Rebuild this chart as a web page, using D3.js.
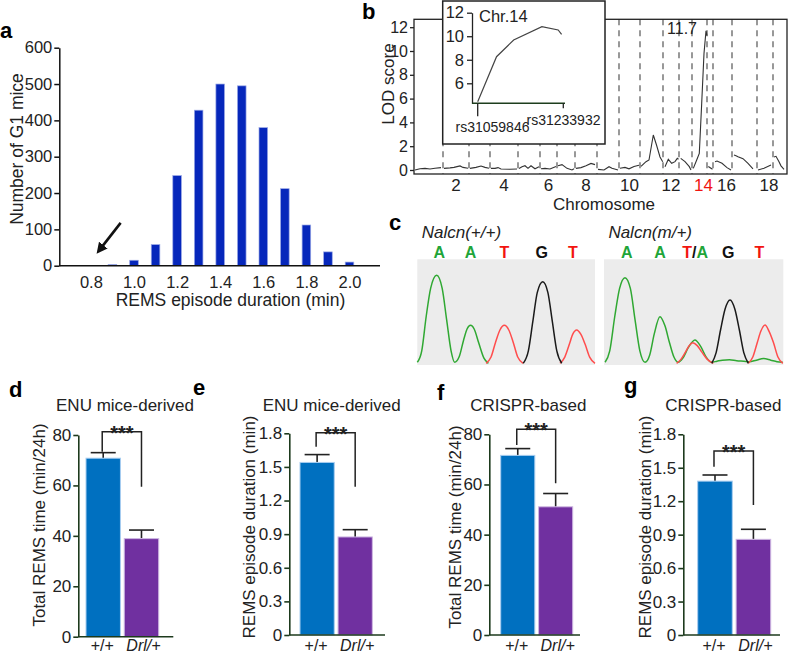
<!DOCTYPE html>
<html><head><meta charset="utf-8">
<script src="https://cdn.jsdelivr.net/npm/d3@7"></script>
<style>
body{margin:0;background:#fff}
svg{display:block;font-family:"Liberation Sans",Arial,Helvetica,sans-serif}
</style>
</head><body>
<svg id="fig" width="800" height="662"></svg>
<script>
// ================= DATA =================
// Panel a: histogram of REMS episode duration
const histBins   = [0.9, 1.0, 1.1, 1.2, 1.3, 1.4, 1.5, 1.6, 1.7, 1.8, 1.9, 2.0];
const histCounts = [3, 15, 58, 248, 428, 500, 495, 380, 212, 112, 38, 10];
const histXTicks = [0.8, 1.0, 1.2, 1.4, 1.6, 1.8, 2.0];
const histYTicks = [0, 100, 200, 300, 400, 500, 600];

// Panel b: LOD scan
const chrNames   = ["1","2","3","4","5","6","7","8","9","10","11","12","13","14","15","16","17","18","19"];
const chrLengths = [29, 26, 21, 28, 22, 17, 18, 22, 22, 21, 23, 16, 13, 15, 6, 19, 25, 16, 14];
const lodTicks   = [0, 2, 4, 6, 8, 10, 12];
// [position within chromosome, LOD]
const lodByChr = [
  [[1,0.0],[6,0.1],[11,0.14],[16,0.08],[21,0.15],[27,0.2]],
  [[1,0.14],[7,0.18],[11,0.22],[17,0.34],[20,0.22],[25,0.14]],
  [[1,0.14],[7,0.22],[12,0.34],[16,0.22],[20,0.14]],
  [[1,0.14],[5,0.14],[8,0.2],[11,0.08],[20,0.06],[27,0.08]],
  [[1,0.12],[4,0.28],[7,0.36],[10,0.14],[13,0.36],[17,0.1],[21,0.28]],
  [[1,0.1],[5,0.14],[10,0.08],[16,0.3]],
  [[1,0.35],[5,0.45],[10,0.14],[15,0.0],[17,0.1]],
  [[1,0.14],[6,0.2],[11,0.35],[16,0.55],[20,0.45]],
  [[1,0.05],[7,0.0],[12,0.28],[15,0.14],[21,0.0]],
  [[1,0.14],[6,0.22],[10,0.1],[15,0.3],[20,0.4]],
  [[1,0.3],[6,0.7],[9,0.84],[13.3,2.94],[16.5,2.1],[20,1.1],[22.7,0.7]],
  [[2,0.28],[5.3,0.9],[8.7,0.56],[12,0.7],[14.3,0.98],[15.5,0.9]],
  [[1.7,0.98],[6,0.7],[10.3,0.28],[12,0.0]],
  [[1.3,0.14],[4.7,0.84],[7.3,1.4],[9.7,5.6],[12,9.8],[14,11.7],[15,11.3]],
  [[1.3,0.3],[5.5,0.06]],
  [[2,0.7],[4,0.75],[9,0.56],[14,0.2],[18,0.0]],
  [[2,1.26],[4,1.2],[6,1.12],[11,0.95],[16,0.56],[21,0.1]],
  [[1,0.0],[7,0.15],[14,0.42]],
  [[1,1.1],[3,1.15],[6,0.7],[8,0.35],[11,0.05]]
];
const peakChr = "14";
const peakLabel = "11.7";
const insetTitle = "Chr.14";
const insetMarkers = ["rs31059846", "rs31233932"];
const insetPos = [0, 0.22, 0.42, 0.75, 0.94, 0.98];
const insetLod = [4.43, 8.26, 9.68, 10.81, 10.53, 10.16];
const insetTicks = [6, 8, 10, 12];

// Panel c: chromatograms  [position, intensity]
const wtTitle = "Nalcn(+/+)", mutTitle = "Nalcn(m/+)";
const wtCalls = ["A","A","T","G","T"];
const wtCallPos = [12.4, 30, 49, 70, 87.5];
const mutCalls = ["A","A","T/A","G","T"];
const mutCallPos = [12.7, 31.2, 50.8, 69.3, 86.6];
const wtTraces = {
  A: [[[0,1],[2.5,12],[5,45],[7.5,72],[10.9,84.6],[14,72],[16.5,42],[19,12],[21,1],[23.5,6],[26,22],[28,33],[30,36.5],[32,33],[34.5,20],[37.5,5],[40,0]]],
  T: [[[38.7,0],[41.5,6],[44,20],[46.5,32],[49,36.5],[51.5,32],[54,20],[56.5,6],[59.5,0]],
      [[80.3,0],[83,6],[85.5,18],[87.5,28],[89.7,32],[92,28],[94.5,18],[97,6],[100,0]]],
  G: [[[59.6,0],[62.5,12],[65,40],[67.5,68],[70.6,78.5],[73.5,68],[76,40],[78.5,12],[81.3,0]]]
};
const mutTraces = {
  A: [[[0.6,1],[3.2,12],[6,45],[8.7,72],[11.7,82.3],[14.7,72],[17.3,42],[20,12],[22.9,1],[25.5,8],[28,28],[31.2,44.8],[34,36],[36.5,20],[39,6],[41.4,1],[44,5],[47,15],[50.7,22.4],[54,16],[57,6],[60,1],[63,2],[66,3],[70,3.5],[74,2.5],[78,2],[81,1.5],[85,3],[89,4.5],[93,3],[96.5,1.5],[99.7,1]]],
  T: [[[40.5,0],[43,4],[45.5,11],[47.5,17],[49.5,19.8],[52,17],[54.5,11],[57.5,4],[61,0]],
      [[80.5,0],[83,6],[85.5,20],[87.5,31],[89.8,36.8],[92,31],[94.5,20],[97,6],[99.7,0]]],
  G: [[[60.1,0],[62.5,10],[65,32],[67.5,52],[70.3,60.9],[73,52],[75.5,32],[78,10],[80.5,0]]]
};

// Panels d-g: bar charts (mean, SEM)
const barGroups = ["+/+", "Drl/+"];
const dMeans = [70.8, 38.9],  dErrs = [2.2, 3.4];
const eMeans = [1.54, 0.875], eErrs = [0.07, 0.065];
const fMeans = [71.6, 51.1],  fErrs = [2.7, 5.3];
const gMeans = [1.38, 0.858], gErrs = [0.055, 0.09];
const timeTicks = [0, 20, 40, 60, 80];
const durTicks  = [0, 0.3, 0.6, 0.9, 1.2, 1.5, 1.8];
const sigLabel = "***";

// ================= DRAWING =================
const svg = d3.select("#fig");
const FS = 17;

function panelLetter(t, x, y) {
  svg.append("text").attr("x", x).attr("y", y).attr("font-size", 22)
    .attr("font-weight", "bold").text(t);
}

// ---------- Panel a ----------
(function () {
  const g = svg.append("g");
  const x = d3.scaleLinear().domain([1.0, 2.0]).range([134, 349.5]);
  const y = d3.scaleLinear().domain([0, 600]).range([265.7, 47.7]);
  const bw = 8.6;
  g.selectAll("rect.bar").data(histBins.map((b, i) => ({ b, c: histCounts[i] })))
    .join("rect").attr("class", "bar")
    .attr("x", d => x(d.b) - bw / 2).attr("width", bw)
    .attr("y", d => y(d.c)).attr("height", d => y(0) - y(d.c))
    .attr("fill", "#0627bb").attr("stroke", "#9aa8e6").attr("stroke-width", 0.7);

  const ya = g.append("g").attr("transform", "translate(59.3,0)")
    .call(d3.axisLeft(y).tickValues(histYTicks).tickSize(5).tickPadding(2).tickSizeOuter(0));
  const xa = g.append("g").attr("transform", `translate(0,${y(0)})`)
    .call(d3.axisBottom(x).tickValues(histXTicks).tickSize(0).tickPadding(11).tickFormat(d3.format(".1f")));
  xa.select(".domain").remove();
  g.append("line").attr("x1", 59.3).attr("x2", 380).attr("y1", y(0)).attr("y2", y(0))
    .attr("stroke", "#111").attr("stroke-width", 1.5);
  [ya, xa].forEach(a => {
    a.selectAll("text").attr("font-size", 16.5).attr("fill", "#222").attr("font-family", null);
    a.selectAll("path,line").attr("stroke", "#111").attr("stroke-width", 1.5);
  });
  g.append("text").attr("transform", `translate(17,149) rotate(-90)`).attr("text-anchor", "middle")
    .attr("dy", "0.35em").attr("font-size", 17.5).attr("fill", "#222").text("Number of G1 mice");
  g.append("text").attr("x", 230.5).attr("y", 306).attr("text-anchor", "middle")
    .attr("font-size", 17.5).attr("fill", "#222").text("REMS episode duration (min)");
  // arrow
  const defs = svg.append("defs");
  defs.append("marker").attr("id", "arr").attr("viewBox", "0 0 10 10").attr("refX", 5).attr("refY", 5)
    .attr("markerWidth", 4.2).attr("markerHeight", 4.2).attr("orient", "auto")
    .append("path").attr("d", "M0,0 L10,5 L0,10 Z").attr("fill", "#111");
  g.append("line").attr("x1", x(0.938)).attr("y1", y(118)).attr("x2", x(0.842)).attr("y2", y(45))
    .attr("stroke", "#111").attr("stroke-width", 2.6).attr("marker-end", "url(#arr)");
  panelLetter("a", 0, 38);
})();

// ---------- Panel b ----------
(function () {
  const g = svg.append("g");
  const starts = [];
  let acc = 0;
  chrLengths.forEach(l => { starts.push(acc); acc += l; });
  const x = d3.scaleLinear().domain([0, acc]).range([414, 787]);
  const y = d3.scaleLinear().domain([0, 12]).range([170, 27.2]);
  const top = 19.3, bot = 174;

  // dashed chromosome boundaries
  g.selectAll("line.chr").data(starts.slice(1)).join("line").attr("class", "chr")
    .attr("x1", d => x(d)).attr("x2", d => x(d)).attr("y1", top).attr("y2", bot)
    .attr("stroke", "#555").attr("stroke-width", 1.2).attr("stroke-dasharray", "6,5");

  const line = d3.line().x(d => d[0]).y(d => d[1]);
  lodByChr.forEach((pts, i) => {
    g.append("path").attr("d", line(pts.map(p => [x(starts[i] + p[0]), y(p[1])])))
      .attr("fill", "none").attr("stroke", "#333").attr("stroke-width", 1.1);
  });
  g.append("rect").attr("x", 414).attr("y", top).attr("width", 373).attr("height", bot - top)
    .attr("fill", "none").attr("stroke", "#222").attr("stroke-width", 1.3);

  const ya = g.append("g").attr("transform", "translate(414,0)")
    .call(d3.axisLeft(y).tickValues(lodTicks).tickSize(4).tickPadding(2).tickSizeOuter(0));
  ya.select(".domain").remove();
  ya.selectAll("line").attr("stroke", "#222").attr("stroke-width", 1.3);
  ya.selectAll("text").attr("font-size", 16).attr("fill", "#222").attr("font-family", null);

  // chromosome labels (even ones)
  chrNames.forEach((n, i) => {
    if ((i + 1) % 2 !== 0) return;
    g.append("text").attr("x", x(starts[i] + chrLengths[i] / 2) + (i > 12 ? 4 : 0)).attr("y", 190.5)
      .attr("text-anchor", "middle").attr("font-size", FS)
      .attr("fill", n === peakChr ? "#f0140f" : "#222").text(n);
  });
  g.append("text").attr("x", 604).attr("y", 210).attr("text-anchor", "middle")
    .attr("font-size", FS).attr("fill", "#222").text("Chromosome");
  g.append("text").attr("transform", "translate(388,84) rotate(-90)").attr("text-anchor", "middle")
    .attr("dy", "0.35em").attr("font-size", FS).attr("fill", "#222").text("LOD score");

  // peak label
  const pi = chrNames.indexOf(peakChr);
  const pk = lodByChr[pi].reduce((a, b) => (b[1] > a[1] ? b : a));
  g.append("text").attr("x", x(starts[pi] + pk[0]) - 9).attr("y", y(+peakLabel) + 3.5)
    .attr("text-anchor", "end").attr("font-size", 16).attr("fill", "#222").text(peakLabel);

  // inset
  g.append("rect").attr("x", 442.7).attr("y", 1).attr("width", 162.3).attr("height", 143)
    .attr("fill", "#fff").attr("stroke", "#222").attr("stroke-width", 1.5);
  const ix = d3.scaleLinear().domain([0, 1]).range([477.7, 563.3]);
  const iy = d3.scaleLinear().domain([4.3, 12]).range([103.3, 12.7]);
  const iya = g.append("g").attr("transform", "translate(472,0)")
    .call(d3.axisLeft(iy).tickValues(insetTicks).tickSize(5).tickPadding(3).tickSizeOuter(0));
  iya.selectAll("path,line").attr("stroke", "#222").attr("stroke-width", 1.3);
  iya.selectAll("text").attr("font-size", 16.5).attr("fill", "#222").attr("font-family", null);
  g.append("line").attr("x1", 472).attr("x2", 565).attr("y1", iy(4.3)).attr("y2", iy(4.3))
    .attr("stroke", "#1d3d1d").attr("stroke-width", 1.6);
  g.append("line").attr("x1", ix(0)).attr("x2", ix(0)).attr("y1", iy(4.3)).attr("y2", iy(4.3) + 13)
    .attr("stroke", "#222").attr("stroke-width", 1.3);
  g.append("line").attr("x1", ix(1)).attr("x2", ix(1)).attr("y1", iy(4.3)).attr("y2", iy(4.3) + 5)
    .attr("stroke", "#222").attr("stroke-width", 1.3);
  g.append("path").attr("d", d3.line()(insetPos.map((p, i) => [ix(p), iy(insetLod[i])])))
    .attr("fill", "none").attr("stroke", "#444").attr("stroke-width", 1.2);
  g.append("text").attr("x", 479).attr("y", 21.5).attr("font-size", 16.5).attr("fill", "#222").text(insetTitle);
  g.append("text").attr("x", 455.5).attr("y", 132).attr("font-size", 14).attr("fill", "#222").text(insetMarkers[0]);
  g.append("text").attr("x", 526.5).attr("y", 124.5).attr("font-size", 14).attr("fill", "#222").text(insetMarkers[1]);
  panelLetter("b", 362, 19);
})();

// ---------- Panel c ----------
(function () {
  const g = svg.append("g");
  const cy = d3.scaleLinear().domain([0, 100]).range([363.3, 259.3]);
  const baseColor = { A: "#1fa539", T: "#f2150f", G: "#111", "/": "#111" };
  const traceColor = { A: "#2fa832", T: "#ff4d4d", G: "#1a1a1a" };
  const line = d3.line().curve(d3.curveMonotoneX);
  function chrom(x0, x1, title, calls, callPos, traces, order) {
    const cx = d3.scaleLinear().domain([0, 100]).range([x0, x1]);
    g.append("rect").attr("x", cx(0)).attr("y", 259.3).attr("width", cx(100) - cx(0)).attr("height", 105.7)
      .attr("fill", "#ececec");
    order.forEach(b => {
      traces[b].forEach(seg => {
        g.append("path").attr("d", line(seg.map(p => [cx(p[0]), cy(p[1])])))
          .attr("fill", "none").attr("stroke", traceColor[b]).attr("stroke-width", 1.5);
      });
    });
    g.append("text").attr("x", x0 + 4.4).attr("y", 238).attr("font-size", FS)
      .attr("font-style", "italic").attr("fill", "#222").text(title);
    calls.forEach((c, i) => {
      const t = g.append("text").attr("x", cx(callPos[i])).attr("y", 258).attr("text-anchor", "middle")
        .attr("font-size", 16).attr("font-weight", "bold");
      c.split("").forEach(ch => t.append("tspan").attr("fill", baseColor[ch]).text(ch));
    });
  }
  chrom(417.3, 595, wtTitle, wtCalls, wtCallPos, wtTraces, ["A", "T", "G"]);
  chrom(604, 783.3, mutTitle, mutCalls, mutCallPos, mutTraces, ["A", "T", "G"]);
  panelLetter("c", 389, 230);
})();

// ---------- Panels d-g ----------
function barPanel(cfg) {
  const g = svg.append("g");
  const y = d3.scaleLinear().domain([0, cfg.max]).range([cfg.y0, cfg.y1]);
  const x = d3.scaleBand().domain(barGroups).range([cfg.bandL, cfg.bandR]).paddingInner(0.1);
  const fills = ["#0070c0", "#7030a0"], strokes = ["#a8cdf0", "#cdb6e2"];
  const data = barGroups.map((k, i) => ({ k, m: cfg.means[i], e: cfg.errs[i], i }));
  // error bars
  data.forEach(d => {
    const cx = x(d.k) + x.bandwidth() / 2;
    g.append("line").attr("x1", cx).attr("x2", cx).attr("y1", y(d.m)).attr("y2", y(d.m + d.e))
      .attr("stroke", "#222").attr("stroke-width", 1.6);
    g.append("line").attr("x1", cx - 12.5).attr("x2", cx + 12.5).attr("y1", y(d.m + d.e)).attr("y2", y(d.m + d.e))
      .attr("stroke", "#222").attr("stroke-width", 1.6);
  });
  g.selectAll("rect").data(data).join("rect")
    .attr("x", d => x(d.k)).attr("width", x.bandwidth())
    .attr("y", d => y(d.m)).attr("height", d => y(0) - y(d.m))
    .attr("fill", d => fills[d.i]).attr("stroke", d => strokes[d.i]).attr("stroke-width", 1);

  const ya = g.append("g").attr("transform", `translate(${cfg.axisX},0)`)
    .call(d3.axisLeft(y).tickValues(cfg.ticks).tickSize(5).tickPadding(2).tickSizeOuter(0).tickFormat(cfg.fmt));
  ya.selectAll("path,line").attr("stroke", "#1d3a1d").attr("stroke-width", 1.6);
  ya.selectAll("text").attr("font-size", 17).attr("fill", "#222").attr("font-family", null);
  g.append("line").attr("x1", cfg.axisX).attr("x2", cfg.xEnd).attr("y1", y(0)).attr("y2", y(0))
    .attr("stroke", "#1d3a1d").attr("stroke-width", 1.6);
  barGroups.forEach((k, i) => {
    g.append("text").attr("x", x(k) + x.bandwidth() / 2 + (i ? 2 : -1)).attr("y", 651)
      .attr("text-anchor", "middle").attr("font-size", 16).attr("fill", "#222")
      .attr("font-style", i ? "italic" : "normal").text(k);
  });
  // significance bracket
  const lx = x(barGroups[0]) + x.bandwidth() / 2 - 1, rx = x(barGroups[1]) + x.bandwidth() / 2;
  g.append("path").attr("d", `M${lx},${y(cfg.br[1])}V${y(cfg.br[0])}H${rx}V${y(cfg.br[2])}`)
    .attr("fill", "none").attr("stroke", "#222").attr("stroke-width", 1.5);
  g.append("text").attr("x", (lx + rx) / 2).attr("y", y(cfg.br[0]) + 8).attr("text-anchor", "middle")
    .attr("font-size", 20).attr("font-weight", "bold").attr("fill", "#222").text(sigLabel);
  g.append("text").attr("x", cfg.tx).attr("y", 410.5).attr("text-anchor", "middle")
    .attr("font-size", FS).attr("fill", "#222").text(cfg.title);
  g.append("text").attr("transform", `translate(${cfg.ylx},${cfg.yly}) rotate(-90)`)
    .attr("text-anchor", "middle").attr("dy", "0.35em").attr("font-size", FS).attr("fill", "#222").text(cfg.ylab);
  panelLetter(cfg.letter, cfg.lx, cfg.ly);
}
const fmtInt = d3.format("d");
const fmtDur = d => (d === 0 ? "0" : d3.format(".1f")(d));
barPanel({ letter: "d", lx: 9, ly: 397, title: "ENU mice-derived", tx: 125, ylab: "Total REMS time (min/24h)",
  ylx: 39, yly: 525, axisX: 78.3, xEnd: 173.3, y0: 636.7, y1: 435, bandL: 86, bandR: 158.7,
  max: 80, ticks: timeTicks, fmt: fmtInt, means: dMeans, errs: dErrs, br: [81.3, 73.4, 59.5] });
barPanel({ letter: "e", lx: 193, ly: 395, title: "ENU mice-derived", tx: 331.7, ylab: "REMS episode duration (min)",
  ylx: 249, yly: 527, axisX: 289.3, xEnd: 385, y0: 635, y1: 433.3, bandL: 300, bandR: 372.3,
  max: 1.8, ticks: durTicks, fmt: fmtDur, means: eMeans, errs: eErrs, br: [1.805, 1.68, 1.323] });
barPanel({ letter: "f", lx: 437, ly: 400, title: "CRISPR-based", tx: 528.3, ylab: "Total REMS time (min/24h)",
  ylx: 455, yly: 527, axisX: 489.3, xEnd: 580, y0: 635, y1: 434.3, bandL: 500.7, bandR: 572.7,
  max: 80, ticks: timeTicks, fmt: fmtInt, means: fMeans, errs: fErrs, br: [82, 75.7, 60.5] });
barPanel({ letter: "g", lx: 624, ly: 393, title: "CRISPR-based", tx: 723.3, ylab: "REMS episode duration (min)",
  ylx: 645, yly: 527, axisX: 683.3, xEnd: 780, y0: 635, y1: 434.3, bandL: 697.7, bandR: 770.7,
  max: 1.8, ticks: durTicks, fmt: fmtDur, means: gMeans, errs: gErrs, br: [1.65, 1.51, 1.166] });
</script>
</body></html>
